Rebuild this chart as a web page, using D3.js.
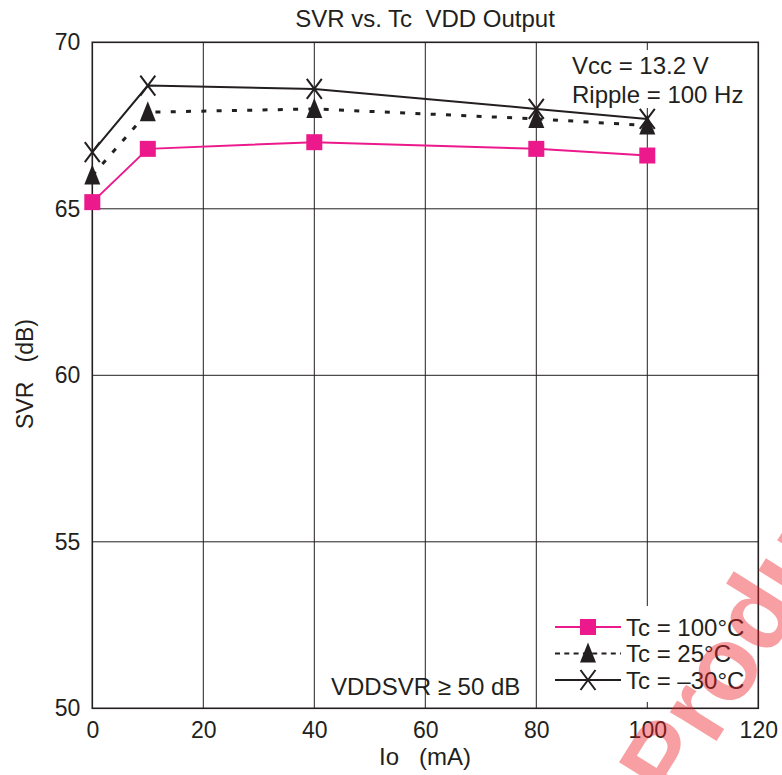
<!DOCTYPE html>
<html>
<head>
<meta charset="utf-8">
<script src="https://cdn.jsdelivr.net/npm/d3@7"></script>
<style>
  html, body { margin: 0; padding: 0; background: #fff; }
  svg text { font-family: "Liberation Sans", Arial, Helvetica, sans-serif; fill: #231f20; white-space: pre; }
</style>
</head>
<body>
<svg id="chart" width="782" height="775"></svg>
<script>
// ---- data ----
const io = [0, 10, 40, 80, 100];
const svr100 = [65.2, 66.8, 67.0, 66.8, 66.6];
const svr25 = [66.0, 67.9, 68.0, 67.7, 67.5];
const svrM30 = [66.7, 68.7, 68.6, 68.0, 67.7];
const xTicks = [0, 20, 40, 60, 80, 100, 120];
const yTicks = [50, 55, 60, 65, 70];
const legendLabels = ["Tc = 100°C", "Tc = 25°C", "Tc = \u201330°C"];
const titleText = "SVR vs. Tc  VDD Output";
const xLabel = "Io   (mA)";
const yLabel = "SVR   (dB)";
const noteLines = ["Vcc = 13.2 V", "Ripple = 100 Hz"];
const limitNote = "VDDSVR \u2265 50 dB";
const watermark = "Produ";

const svg = d3.select("#chart");
const L = 92.3, R = 758.3, T = 42.3, B = 708.3;
const x = d3.scaleLinear().domain([0, 120]).range([L, R]);
const y = d3.scaleLinear().domain([50, 70]).range([B, T]);
const ink = "#231f20", pink = "#ec198c";

// grid
const g = svg.append("g");
g.selectAll(".vg").data(xTicks.slice(1, -1)).enter().append("line")
  .attr("x1", d => x(d)).attr("x2", d => x(d)).attr("y1", T).attr("y2", B)
  .attr("stroke", ink).attr("stroke-width", 1);
g.selectAll(".hg").data(yTicks.slice(1, -1)).enter().append("line")
  .attr("x1", L).attr("x2", R).attr("y1", d => y(d)).attr("y2", d => y(d))
  .attr("stroke", ink).attr("stroke-width", 1);

// axes (labels only)
const xAxis = svg.append("g").attr("transform", `translate(0,${B})`)
  .call(d3.axisBottom(x).tickValues(xTicks).tickSize(0).tickPadding(13));
const yAxis = svg.append("g").attr("transform", `translate(${L},0)`)
  .call(d3.axisLeft(y).tickValues(yTicks).tickSize(0).tickPadding(12));
[xAxis, yAxis].forEach(a => {
  a.attr("font-family", null);
  a.select(".domain").remove();
  a.selectAll("text").attr("font-size", 23).style("fill", ink);
});

// notes with white backgrounds
svg.append("rect").attr("x", 566).attr("y", 50).attr("width", 150).attr("height", 58).attr("fill", "#fff");
svg.selectAll(".note").data(noteLines).enter().append("text")
  .attr("x", 572).attr("y", (d, i) => 73.5 + i * 29).attr("font-size", 24).text(d => d);
svg.append("text").attr("x", 331).attr("y", 695).attr("font-size", 24).text(limitNote);

// frame
svg.append("rect").attr("x", L).attr("y", T).attr("width", R - L).attr("height", B - T)
  .attr("fill", "none").attr("stroke", ink).attr("stroke-width", 1.6);

// series
const pts = vals => io.map((v, i) => [v, vals[i]]);
const line = d3.line().x(d => x(d[0])).y(d => y(d[1]));
svg.append("path").attr("d", line(pts(svr100))).attr("fill", "none").attr("stroke", pink).attr("stroke-width", 2);
svg.append("path").attr("d", line(pts(svr25))).attr("fill", "none").attr("stroke", ink).attr("stroke-width", 3).attr("stroke-dasharray", "5,10.3");
svg.append("path").attr("d", line(pts(svrM30))).attr("fill", "none").attr("stroke", ink).attr("stroke-width", 2);

function square(sel) { sel.append("rect").attr("x", -8).attr("y", -8).attr("width", 16).attr("height", 16).attr("fill", pink); }
function tri(sel) { sel.append("path").attr("d", "M0,-11L8,9L-8,9Z").attr("fill", ink); }
function cross(sel) { sel.append("path").attr("d", "M-7.5,-10L7.5,10M7.5,-10L-7.5,10").attr("stroke", ink).attr("stroke-width", 2).attr("fill", "none"); }

svg.selectAll(".m100").data(pts(svr100)).enter().append("g")
  .attr("transform", d => `translate(${x(d[0])},${y(d[1])})`).call(square);
svg.selectAll(".m25").data(pts(svr25)).enter().append("g")
  .attr("transform", d => `translate(${x(d[0])},${y(d[1])})`).call(tri);
svg.selectAll(".m30").data(pts(svrM30)).enter().append("g")
  .attr("transform", d => `translate(${x(d[0])},${y(d[1])})`).call(cross);

// legend
svg.append("rect").attr("x", 548).attr("y", 606).attr("width", 209).attr("height", 96).attr("fill", "#fff");
const lg = svg.append("g");
const ly = [627, 653.5, 680];
lg.append("line").attr("x1", 555).attr("x2", 621).attr("y1", ly[0]).attr("y2", ly[0]).attr("stroke", pink).attr("stroke-width", 2);
lg.append("line").attr("x1", 555).attr("x2", 621).attr("y1", ly[1]).attr("y2", ly[1]).attr("stroke", ink).attr("stroke-width", 2).attr("stroke-dasharray", "5,4.3");
lg.append("line").attr("x1", 555).attr("x2", 621).attr("y1", ly[2]).attr("y2", ly[2]).attr("stroke", ink).attr("stroke-width", 2);
lg.append("g").attr("transform", `translate(588,${ly[0]})`).call(square);
lg.append("g").attr("transform", `translate(588,${ly[1]})`).call(tri);
lg.append("g").attr("transform", `translate(588,${ly[2]})`).call(cross);
lg.selectAll("text").data(legendLabels).enter().append("text")
  .attr("x", 626).attr("y", (d, i) => ly[i] + 8.5).attr("font-size", 24).text(d => d);

// titles
svg.append("text").attr("x", 425).attr("y", 26.5).attr("text-anchor", "middle").attr("font-size", 24).text(titleText);
svg.append("text").attr("x", 425).attr("y", 765).attr("text-anchor", "middle").attr("font-size", 24).text(xLabel);
svg.append("text").attr("transform", "translate(33,374) rotate(-90)").attr("text-anchor", "middle").attr("font-size", 23).text(yLabel);

// translucent watermark on top (as in the reference)
svg.append("text").attr("transform", "translate(676,806) rotate(-58)")
  .attr("font-size", 104).attr("font-weight", "bold").style("fill", "#ee1c24").attr("opacity", 0.42)
  .text(watermark);
</script>
</body>
</html>
